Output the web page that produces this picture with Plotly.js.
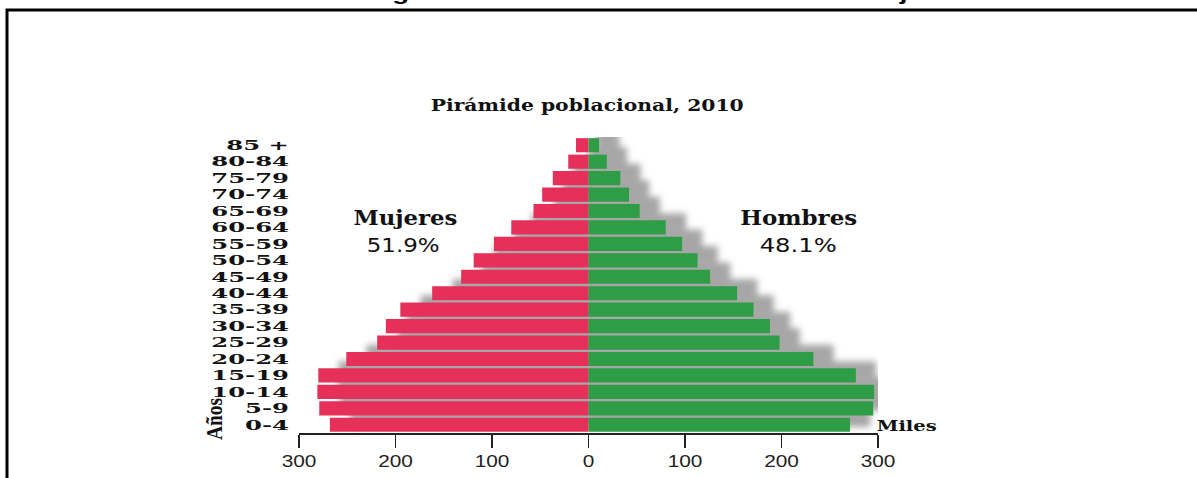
<!DOCTYPE html>
<html>
<head>
<meta charset="utf-8">
<script src="https://cdn.plot.ly/plotly-3.0.1.min.js"></script>
<style>
  html, body { margin: 0; padding: 0; background: #fff; }
  #chart { width: 1197px; height: 478px; }
</style>
</head>
<body>
<div id="chart"></div>
<script>
// ---- data (bottom to top) ----
const ageGroups = ["0-4","5-9","10-14","15-19","20-24","25-29","30-34","35-39","40-44","45-49","50-54","55-59","60-64","65-69","70-74","75-79","80-84","85 +"];
const mujeres = [268, 279, 281, 280, 251, 219, 210, 195, 162, 132, 119, 98, 80, 57, 48, 37, 21, 13];
const hombres = [271, 295, 296, 277, 233, 198, 188, 171, 154, 126, 113, 97, 80, 53, 42, 33, 19, 11];
const xTickVals = [-300, -200, -100, 0, 100, 200, 300];
const xTickText = ["300", "200", "100", "0", "100", "200", "300"];
const figureTitle = "Figura 3. Población del estado de Guanajuato";
const chartTitle = "Pirámide poblacional, 2010";
const labelMujeres = "Mujeres";
const shareMujeres = "51.9%";
const labelHombres = "Hombres";
const shareHombres = "48.1%";
const unitLabel = "Miles";
const yLabel = "Años";

// ---- styling helpers (pixel -> paper) ----
const L = 299, R = 319, T = 137, B = 45, W = 1197, H = 478;
const pw = W - L - R, ph = H - T - B;
const xp = px => (px - L) / pw;
const yp = py => (H - B - py) / ph;
const SH_DX = 21;       // shadow offset, in axis units
const SH_DY = 0.37;     // shadow offset, in rows

const RED = "#E6305A", GREEN = "#2E9D46";

const shadow = {
  type: "bar", orientation: "h",
  y: ageGroups,
  base: mujeres.map(v => SH_DX - v),
  x: mujeres.map((v, i) => v + hombres[i]),
  width: 1.0,
  marker: { color: "#7d7d7d", line: { width: 0 } },
  opacity: 0.68,
  xaxis: "x", yaxis: "y",
  hoverinfo: "skip", showlegend: false
};
const trMujeres = {
  type: "bar", orientation: "h", name: labelMujeres,
  y: ageGroups,
  base: mujeres.map(v => -v),
  x: mujeres,
  width: 0.86,
  marker: { color: RED, line: { width: 0 } },
  xaxis: "x", yaxis: "y2",
  hoverinfo: "skip", showlegend: false
};
const trHombres = {
  type: "bar", orientation: "h", name: labelHombres,
  y: ageGroups,
  x: hombres,
  width: 0.86,
  marker: { color: GREEN, line: { width: 0 } },
  xaxis: "x", yaxis: "y2",
  hoverinfo: "skip", showlegend: false
};

const serifB = "DejaVu Serif";
const layout = {
  width: W, height: H,
  margin: { l: L, r: R, t: T, b: B, pad: 0 },
  paper_bgcolor: "#fff", plot_bgcolor: "rgba(0,0,0,0)",
  barmode: "overlay",
  showlegend: false,
  font: { family: "Liberation Sans, Arial, sans-serif", color: "#111" },
  xaxis: {
    range: [-300, 300], tickmode: "array", tickvals: xTickVals, ticktext: xTickText,
    ticks: "outside", ticklen: 13, tickwidth: 1.5, tickcolor: "#222",
    showline: true, linecolor: "#222", linewidth: 1.5,
    showgrid: false, zeroline: false, fixedrange: true,
    tickfont: { family: "Liberation Sans, Arial, sans-serif", size: 16, color: "#222" }
  },
  yaxis: {
    type: "category", categoryorder: "array", categoryarray: ageGroups,
    range: [-0.5 - SH_DY, 17.5 - SH_DY],
    showticklabels: false, showgrid: false, zeroline: false, showline: false, ticks: "",
    fixedrange: true
  },
  yaxis2: {
    type: "category", categoryorder: "array", categoryarray: ageGroups,
    overlaying: "y", side: "left",
    range: [-0.5, 17.5],
    tickmode: "array", tickvals: ageGroups, ticktext: ageGroups,
    showgrid: false, zeroline: false, showline: false, ticks: "",
    ticklabelstandoff: 9,
    tickfont: { family: serifB, size: 13.5, color: "#111", weight: "bold" },
    fixedrange: true
  },
  shapes: [{
    type: "rect", xref: "paper", yref: "paper",
    x0: xp(7), x1: xp(1210), y0: yp(500), y1: yp(10),
    line: { color: "#000", width: 3 }, fillcolor: "rgba(0,0,0,0)", layer: "above"
  }],
  annotations: [
    { text: figureTitle, xref: "paper", yref: "paper", x: xp(666), y: yp(6), xanchor: "center", yanchor: "bottom",
      showarrow: false, font: { family: "Liberation Sans, Arial, sans-serif", size: 20, weight: "bold", color: "#000" } },
    { text: chartTitle, xref: "paper", yref: "paper", x: xp(587), y: yp(106), xanchor: "center", yanchor: "middle",
      showarrow: false, font: { family: serifB, size: 16.5, weight: "bold", color: "#111" } },
    { text: labelMujeres, xref: "paper", yref: "paper", x: xp(405), y: yp(218), xanchor: "center", yanchor: "middle",
      showarrow: false, font: { family: serifB, size: 19.5, weight: "bold", color: "#111" } },
    { text: shareMujeres, xref: "paper", yref: "paper", x: xp(403), y: yp(245), xanchor: "center", yanchor: "middle",
      showarrow: false, font: { family: "DejaVu Sans", size: 19, color: "#111" } },
    { text: labelHombres, xref: "paper", yref: "paper", x: xp(798), y: yp(218), xanchor: "center", yanchor: "middle",
      showarrow: false, font: { family: serifB, size: 19.5, weight: "bold", color: "#111" } },
    { text: shareHombres, xref: "paper", yref: "paper", x: xp(798), y: yp(245), xanchor: "center", yanchor: "middle",
      showarrow: false, font: { family: "DejaVu Sans", size: 19, color: "#111" } },
    { text: unitLabel, xref: "paper", yref: "paper", x: xp(907), y: yp(425), xanchor: "center", yanchor: "middle",
      showarrow: false, font: { family: serifB, size: 15.5, weight: "bold", color: "#111" } },
    { text: yLabel, xref: "paper", yref: "paper", x: xp(214), y: yp(419), xanchor: "center", yanchor: "middle",
      textangle: -90, showarrow: false, font: { family: "Liberation Serif", size: 24, weight: "bold", color: "#111" } }
  ]
};

// target widths (px) for horizontally stretched texts, by annotation index
const annWidths = [598, 313, 104, 73, 117, 77, 60, 42];

const gd = document.getElementById("chart");
Plotly.newPlot(gd, [shadow, trMujeres, trHombres], layout, { displayModeBar: false, staticPlot: true }).then(() => {
  const stretchTo = (t, w) => { t.setAttribute("textLength", w); t.setAttribute("lengthAdjust", "spacingAndGlyphs"); };
  const stretchBy = (t, f) => { const w = t.getComputedTextLength(); stretchTo(t, w * f); };
  gd.querySelectorAll(".ytick text, .y2tick text").forEach(t => stretchBy(t, 1.8));
  gd.querySelectorAll(".xtick text").forEach(t => stretchBy(t, 1.3));
  annWidths.forEach((w, i) => {
    const t = gd.querySelector('.annotation[data-index="' + i + '"] text');
    if (t) stretchTo(t, w);
  });
  // blurred drop shadow
  const svg = gd.querySelector("svg.main-svg");
  const NS = "http://www.w3.org/2000/svg";
  let defs = svg.querySelector("defs");
  if (!defs) { defs = document.createElementNS(NS, "defs"); svg.insertBefore(defs, svg.firstChild); }
  const f = document.createElementNS(NS, "filter");
  f.setAttribute("id", "shblur");
  f.setAttribute("x", "-20%"); f.setAttribute("y", "-20%");
  f.setAttribute("width", "140%"); f.setAttribute("height", "140%");
  const g = document.createElementNS(NS, "feGaussianBlur");
  g.setAttribute("stdDeviation", "3");
  f.appendChild(g); defs.appendChild(f);
  const bl = gd.querySelector(".subplot.xy .barlayer");
  if (bl) bl.setAttribute("filter", "url(#shblur)");
});
</script>
</body>
</html>
